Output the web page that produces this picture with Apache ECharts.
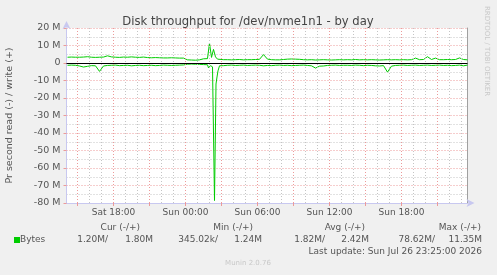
<!DOCTYPE html>
<html><head><meta charset="utf-8">
<script src="https://cdn.jsdelivr.net/npm/echarts@6/dist/echarts.min.js"></script>
<style>html,body{margin:0;padding:0;background:#f0f0f0}#c{width:497px;height:275px}</style>
</head><body><div id="c"></div>
<script>
// hours relative to Sun 00:00
const axisMinHour = -9.9167;
const axisMaxHour = 23.5;
const startHour = -9.8333;
const stepHours = 1 / 3;
const xTickHours = [-6, 0, 6, 12, 18];
const xTickLabels = ['Sat 18:00', 'Sun 00:00', 'Sun 06:00', 'Sun 12:00', 'Sun 18:00'];

// write (+), MB/s, 20-minute samples
const writeBase = [
  3.3,3.4,3.3,3.3,3.4,3.6,3.3,3.2,3.3,3.4,
  4.1,3.5,3.3,3.2,3.4,3.3,3.5,3.3,3.2,3.4,
  3.1,3.0,3.1,3.0,2.9,2.9,3.0,2.9,2.8,2.8,
  1.8,1.7,1.6,1.8,2.4,2.6,3.0,3.5,2.0,1.9,
  1.9,1.8,1.9,2.0,1.8,1.9,1.9,2.0,2.1,4.8,
  2.2,1.9,1.8,1.8,2.0,2.2,2.3,2.2,2.1,1.9,
  1.8,1.9,1.7,1.8,1.9,1.8,1.7,1.8,1.9,1.8,
  1.9,1.8,2.0,1.8,1.9,1.8,1.9,1.8,1.7,1.8,
  1.9,1.8,1.9,1.8,1.9,1.8,1.9,2.8,1.9,2.0,
  3.6,2.0,2.8,1.9,1.9,2.0,1.9,2.0,2.9,2.0,
  1.8
];
// read (-), MB/s, 20-minute samples
const readBase = [
  -1.3,-1.2,-1.3,-1.7,-2.3,-1.9,-1.5,-1.6,-4.8,-1.7,
  -1.4,-1.3,-1.2,-1.5,-1.4,-1.3,-1.6,-1.4,-1.3,-1.5,
  -1.4,-1.3,-1.5,-1.4,-1.2,-1.3,-1.4,-1.3,-1.2,-1.1,
  -0.7,-0.6,-0.7,-0.8,-0.9,-1.0,-2.0,-12,-3.0,-1.5,
  -1.3,-1.2,-1.4,-1.3,-1.2,-1.4,-1.3,-1.2,-1.3,-1.6,
  -1.4,-1.5,-1.3,-1.2,-1.4,-1.3,-1.5,-1.4,-1.3,-1.2,
  -1.4,-1.6,-2.9,-1.8,-1.7,-1.4,-1.3,-1.2,-1.4,-1.3,
  -1.3,-1.4,-1.2,-1.3,-1.5,-1.3,-1.4,-1.6,-1.7,-1.5,
  -5.2,-1.8,-1.4,-1.3,-1.2,-1.4,-1.3,-1.2,-1.4,-1.3,
  -1.2,-1.4,-1.3,-1.2,-1.4,-1.3,-1.5,-1.4,-1.2,-1.6,
  -1.2
];
// detail around the Sun ~02:00 burst (5-minute resolution)
const writeSpikeHours = [1.8333, 2.0, 2.1667, 2.3333, 2.5, 2.6667];
const writeSpikeValues = [2.5, 11.4, 3.2, 7.8, 3.5, 2.2];
const readSpikeHours = [1.9167, 2.0833, 2.25, 2.4167, 2.5417, 2.625, 2.7083, 2.8333];
const readSpikeValues = [-2.8, -1.5, -2.2, -78.6, -12, -8, -4.5, -1.6];

const statHeaders = ['Cur (-/+)', 'Min (-/+)', 'Avg (-/+)', 'Max (-/+)'];
const statRead = ['1.20M/', '345.02k/', '1.82M/', '78.62M/'];
const statWrite = ['1.80M', '1.24M', '2.42M', '11.35M'];

function merge(base, sh, sv) {
  const lo = sh[0] - 1e-3, hi = sh[sh.length - 1] + 1e-3;
  const pts = [];
  base.forEach((v, i) => {
    const h = startHour + i * stepHours;
    if (h < lo || h > hi) pts.push([h, v]);
  });
  sh.forEach((h, i) => pts.push([h, sv[i]]));
  pts.sort((a, b) => a[0] - b[0]);
  return pts;
}

const GREEN = '#00cc00';
const F = '"DejaVu Sans"';
const RED = '#ec9a9a';
const GREY = '#c4c4c4';
const majorGrid = [], minorGrid = [];
for (let h = Math.ceil(axisMinHour); h <= axisMaxHour; h++) {
  (h % 3 === 0 ? majorGrid : minorGrid).push({ xAxis: h });
}

const chart = echarts.init(document.getElementById('c'), null, { renderer: 'canvas' });

const texts = [];
function txt(x, y, s, opt) {
  const o = opt || {};
  const el = {
    type: 'text', x: x, y: y, silent: true,
    style: { text: s, fill: o.fill || '#555', font: o.font || ('9px ' + F),
      align: o.align || 'left', textAlign: o.align || 'left', verticalAlign: 'middle', textVerticalAlign: 'middle' }
  };
  if (o.rotation !== undefined) el.rotation = o.rotation;
  texts.push(el);
}
txt(248, 22, 'Disk throughput for /dev/nvme1n1 - by day', { fill: '#444', font: '11.6px ' + F, align: 'center' });
txt(10, 115.5, 'Pr second read (-) / write (+)', { font: '9.5px ' + F, align: 'center', rotation: Math.PI / 2 });
txt(487, 51, 'RRDTOOL / TOBI OETIKER', { fill: '#c8c8c8', font: '7px ' + F, align: 'center', rotation: -Math.PI / 2 });
const hdrRight = [140, 253, 365, 481];
const readRight = [108, 218, 325, 435];
const writeRight = [153, 262, 369, 482];
statHeaders.forEach((s, i) => txt(hdrRight[i], 227.5, s, { align: 'right' }));
statRead.forEach((s, i) => txt(readRight[i], 239.5, s, { align: 'right' }));
statWrite.forEach((s, i) => txt(writeRight[i], 239.5, s, { align: 'right' }));
txt(20, 239.5, 'Bytes');
txt(482, 251.5, 'Last update: Sun Jul 26 23:25:00 2026', { align: 'right' });
txt(248, 263, 'Munin 2.0.76', { fill: '#c8c8c8', font: '7px ' + F, align: 'center' });
texts.push({ type: 'rect', shape: { x: 14, y: 237, width: 6, height: 6 }, style: { fill: GREEN }, silent: true });

chart.setOption({
  animation: false,
  backgroundColor: '#f0f0f0',
  textStyle: { fontFamily: 'DejaVu Sans' },
  grid: { left: 66.5, top: 28, width: 401, height: 175, containLabel: false, outerBoundsMode: 'none',
          show: true, backgroundColor: '#ffffff', borderWidth: 0 },
  xAxis: {
    type: 'value', min: axisMinHour, max: axisMaxHour,
    axisLine: { show: true, onZero: false, lineStyle: { color: '#c8c8f0', width: 1 }, symbol: ['none', 'arrow'], symbolSize: [6, 8], symbolOffset: [0, 7] },
    axisTick: { show: true, customValues: [-9, -6, -3, 0, 3, 6, 9, 12, 15, 18, 21], length: 3, lineStyle: { color: RED } },
    axisLabel: { customValues: xTickHours, color: '#555', fontSize: 9, fontFamily: 'DejaVu Sans', margin: 5,
                 formatter: v => { const i = xTickHours.findIndex(t => Math.abs(t - v) < 1e-6); return i >= 0 ? xTickLabels[i] : ''; } },
    splitLine: { show: false }
  },
  yAxis: [{
    type: 'value', min: -80, max: 20, interval: 10,
    axisLine: { show: true, onZero: false, lineStyle: { color: '#c8c8f0', width: 1 }, symbol: ['none', 'arrow'], symbolSize: [6, 8], symbolOffset: [0, 7] },
    axisTick: { show: true, length: 3, lineStyle: { color: RED } },
    axisLabel: { color: '#555', fontSize: 9.5, fontFamily: 'DejaVu Sans', margin: 6,
                 formatter: v => v === 0 ? '0' : v + ' M' },
    splitLine: { show: true, lineStyle: { color: RED, type: [1, 2], width: 1 } },
    minorTick: { show: false, splitNumber: 2 },
    minorSplitLine: { show: true, lineStyle: { color: GREY, type: [1, 2], width: 1 } }
  }, {
    type: 'value', min: -80, max: 20, position: 'right',
    axisLine: { show: true, onZero: false, lineStyle: { color: '#a0a0a0', width: 1 } },
    axisTick: { show: false }, axisLabel: { show: false }, splitLine: { show: false }
  }],
  graphic: { elements: texts },
  series: [
    { type: 'line', data: [], silent: true, z: 1,
      markLine: { silent: true, symbol: 'none', label: { show: false }, animation: false,
        lineStyle: { color: GREY, type: [1, 2], width: 1 }, data: minorGrid } },
    { type: 'line', data: [], silent: true, z: 1,
      markLine: { silent: true, symbol: 'none', label: { show: false }, animation: false,
        lineStyle: { color: RED, type: [1, 2], width: 1 }, data: majorGrid } },
    { name: 'write', type: 'line', data: merge(writeBase, writeSpikeHours, writeSpikeValues), showSymbol: false,
      lineStyle: { color: GREEN, width: 1 }, itemStyle: { color: GREEN }, z: 2 },
    { name: 'read', type: 'line', data: merge(readBase, readSpikeHours, readSpikeValues), showSymbol: false,
      lineStyle: { color: GREEN, width: 1 }, itemStyle: { color: GREEN }, z: 2 },
    { type: 'line', data: [], silent: true, z: 3,
      markLine: { silent: true, symbol: 'none', label: { show: false }, animation: false,
        lineStyle: { color: '#000', type: 'solid', width: 1 }, data: [{ yAxis: 0 }] } }
  ]
});
</script>
</body></html>
